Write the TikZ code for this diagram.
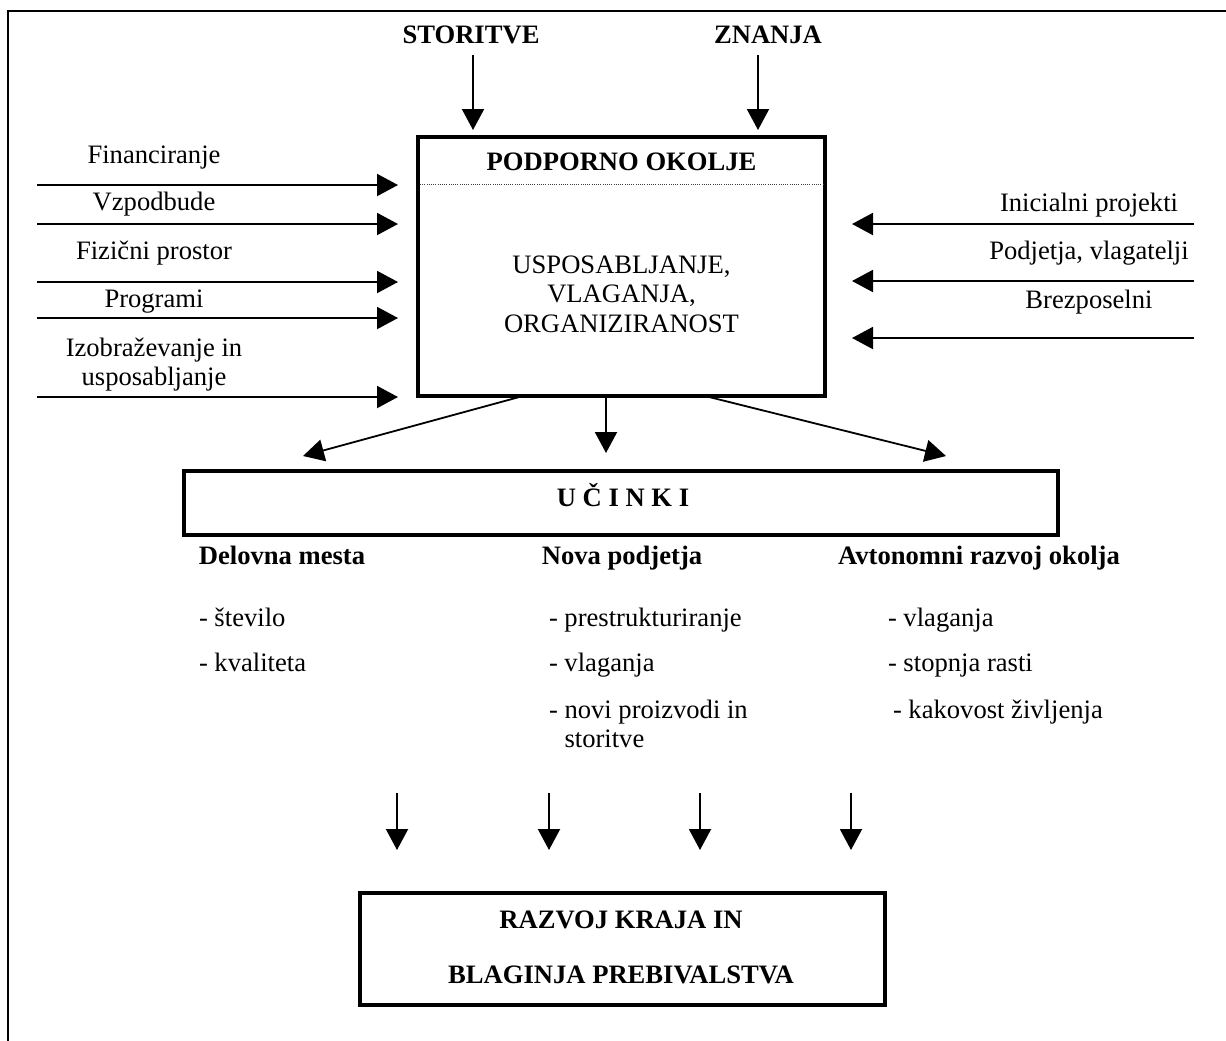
\documentclass[tikz,border=0pt]{standalone}
\usepackage{fontspec}
\setmainfont{Liberation Serif}
\usetikzlibrary{arrows.meta,calc}
% stacked lines; the first line's baseline is the node's base
\newcommand{\mlines}[2][c]{\begin{tabular}[t]{@{}#1@{}}#2\end{tabular}}
\begin{document}
\begin{tikzpicture}[x=0.5pt,y=-0.5pt,
  every node/.style={inner sep=0pt, outer sep=0pt},
  txt/.style={font=\fontsize{13.3}{14.75}\selectfont, anchor=base},
  bold/.style={font=\fontsize{13.3}{14.75}\selectfont\bfseries, anchor=base},
  item/.style={txt, anchor=base west},
  panel/.style={draw, line width=1.7pt, minimum width=#1},
  arr/.style={line width=1pt, -{Triangle[length=10.5pt,width=11pt]}},
  slant/.style={line width=0.9pt, -{Triangle[length=10.5pt,width=11pt]}},
  outline/.style={line width=1.3pt}
]
\clip (0,0) rectangle (1226,1040);

% outer frame (its right and lower sides run past the page)
\draw[outline] (1260,11) -- (8,11) -- (8,1080);

% ---- central box -------------------------------------------------
\node[panel=203.5pt, minimum height=129.5pt] (pod) at (621.5,266.5) {};
\node[bold] (podhead) at (621.5,170) {PODPORNO OKOLJE};
\coordinate (sep) at (0,184);
\draw[line width=0.5pt, dash pattern=on 0.5pt off 0.6pt, black!75]
  ($(pod.west |- sep)+(2,0)$) -- ($(pod.east |- sep)+(-2,0)$);
\node[txt] (podtxt) at (621.5,273)
  {\mlines{USPOSABLJANJE,\\VLAGANJA,\\ORGANIZIRANOST}};

% ---- inputs from above -------------------------------------------
\node[bold] (stor) at (471,43) {STORITVE};
\node[bold] (znan) at (768,43) {ZNANJA};
\draw[arr, shorten <=6pt, shorten >=3.5pt] ($(stor.south)+(2,0)$) -- ($(stor.south |- pod.north)+(2,0)$);
\draw[arr, shorten <=6pt, shorten >=3.5pt] ($(znan.south)+(-10,0)$) -- ($(znan.south |- pod.north)+(-10,0)$);

% ---- inputs from the left ----------------------------------------
\node[txt] (fin) at (154,163) {Financiranje};
\node[txt] (vzp) at (154,210) {Vzpodbude};
\node[txt] (fiz) at (154,259) {Fizični prostor};
\node[txt] (prg) at (154,307) {Programi};
\node[txt] (izo) at (154,356) {\mlines{Izobraževanje in\\usposabljanje}};

\coordinate (l1) at (37,185);
\coordinate (l2) at (37,224);
\coordinate (l3) at (37,282);
\coordinate (l4) at (37,318);
\coordinate (l5) at (37,397);
\foreach \c in {l1,l2,l3,l4,l5}
  \draw[arr, shorten >=10pt] (\c) -- (\c -| pod.west);

% ---- inputs from the right ---------------------------------------
\node[txt] (ini) at (1089,211) {Inicialni projekti};
\node[txt] (pvl) at (1089,259) {Podjetja, vlagatelji};
\node[txt] (brz) at (1089,308) {Brezposelni};

\coordinate (r1) at (1194,224);
\coordinate (r2) at (1194,281);
\coordinate (r3) at (1194,338);
\foreach \c in {r1,r2,r3}
  \draw[arr, shorten >=13.5pt] (\c) -- (\c -| pod.east);

% ---- effects -------------------------------------------------------
\node[panel=437pt, minimum height=32pt] (uci) at (621,503) {};
\node[bold] (ucitxt) at (623,506) {U Č I N K I};

\coordinate (tL) at (303,456);
\coordinate (tM) at (606,453);
\coordinate (tR) at (946,456);
\draw[slant] ($(pod.south)+(-98.5,0)$) -- (tL);
\draw[arr]   ($(pod.south)+(-15.5,0)$) -- (tM);
\draw[slant] ($(pod.south)+(83.5,0)$) -- (tR);

\node[bold] (h1) at (282,564) {Delovna mesta};
\node[bold] (h2) at (622,564) {Nova podjetja};
\node[bold] (h3) at (979,564) {Avtonomni razvoj okolja};

\node[item] (a1) at (199,626) {- število};
\node[item] (a2) at (199,671) {- kvaliteta};

\node[item] (b1) at (549,626) {- prestrukturiranje};
\node[item] (b2) at (549,671) {- vlaganja};
\node[item] (b3) at (549,718) {\mlines[l]{- novi proizvodi in\\\phantom{-}\ storitve}};

\node[item] (c1) at (888,626) {- vlaganja};
\node[item] (c2) at (888,671) {- stopnja rasti};
\node[item] (c3) at (893,718) {- kakovost življenja};

% ---- result ----------------------------------------------------------
\node[panel=262.5pt, minimum height=56pt] (raz) at (622.5,949) {};
\node[bold, font=\fontsize{13.3}{27.5}\selectfont\bfseries] (raztxt) at (621,928)
  {\mlines{RAZVOJ KRAJA IN\\BLAGINJA PREBIVALSTVA}};

\coordinate (d1) at (397,793);
\coordinate (d2) at (549,793);
\coordinate (d3) at (700,793);
\coordinate (d4) at (851,793);
\foreach \c in {d1,d2,d3,d4}
  \draw[arr, shorten >=21.5pt] (\c) -- (\c |- raz.north);
\end{tikzpicture}
\end{document}
